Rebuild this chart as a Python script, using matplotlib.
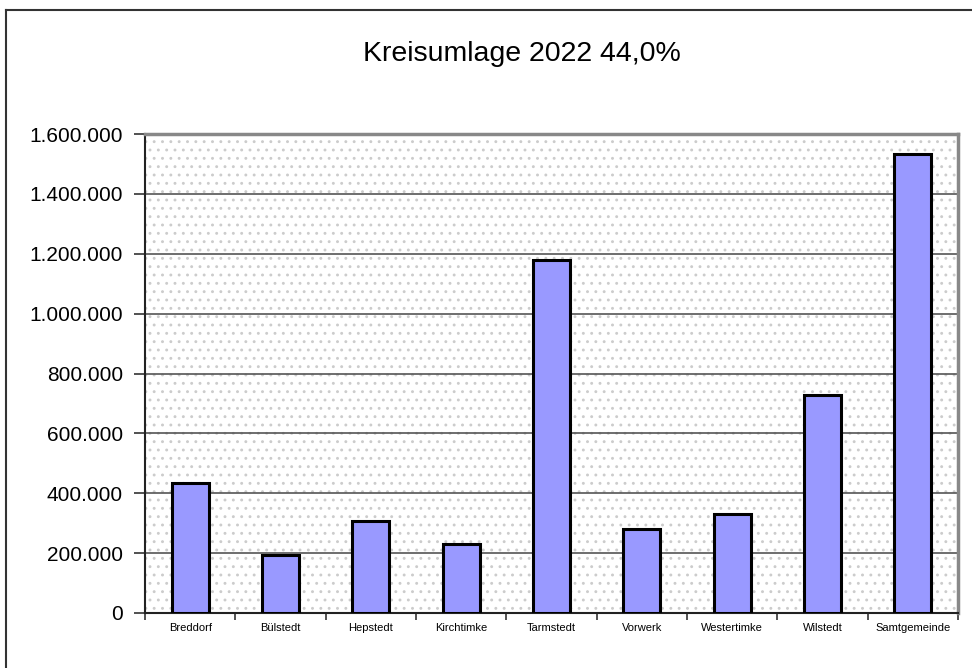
import numpy as np
import matplotlib.pyplot as plt
from matplotlib.patches import Rectangle
from matplotlib.lines import Line2D
from matplotlib.ticker import FuncFormatter, FixedLocator

plt.rcParams['font.family'] = ['Liberation Sans', 'DejaVu Sans']
plt.rcParams['hatch.linewidth'] = 0.9

gemeinden = ['Breddorf', 'Bülstedt', 'Hepstedt', 'Kirchtimke', 'Tarmstedt',
             'Vorwerk', 'Westertimke', 'Wilstedt', 'Samtgemeinde']
umlage = [434000, 195000, 307000, 230000, 1179000, 280000, 330000, 728000, 1533000]

fig = plt.figure(figsize=(9.72, 6.68), dpi=100)
ax = fig.add_axes([145/972, 55/668, 813/972, 479/668])

# dotted background like the spreadsheet chart
ax.patch.set_facecolor('white')
ax.add_patch(Rectangle((0, 0), 1, 1, transform=ax.transAxes, facecolor='white',
                       edgecolor='#cccccc', linewidth=0, hatch='..', zorder=0))

x = np.arange(len(gemeinden))
ax.bar(x, umlage, width=0.41, color='#9999ff', edgecolor='black', linewidth=2.2, zorder=3)

ax.set_xlim(-0.5, len(gemeinden) - 0.5)
ax.set_ylim(0, 1600000)
ax.set_yticks(np.arange(0, 1600001, 200000))
ax.yaxis.set_major_formatter(FuncFormatter(lambda v, p: f'{int(v):,}'.replace(',', '.')))
ax.grid(axis='y', color='#555555', linewidth=1.2, zorder=1)

ax.set_xticks(x)
ax.set_xticklabels(gemeinden, fontsize=8)
ax.xaxis.set_minor_locator(FixedLocator(np.arange(-0.5, len(gemeinden), 1.0)))
ax.tick_params(axis='x', which='major', length=0, pad=7)
ax.tick_params(axis='x', which='minor', length=5, width=1.2, color='#333333')
ax.tick_params(axis='y', labelsize=15, length=8, width=1.2, pad=8, color='#333333')

for s in ['left', 'bottom']:
    ax.spines[s].set_color('#222222')
    ax.spines[s].set_linewidth(1.5)
for s in ['top', 'right']:
    ax.spines[s].set_color('#888888')
    ax.spines[s].set_linewidth(2.5)

fig.text(522/972, 1 - 54/668, 'Kreisumlage 2022 44,0%', fontsize=20.5, ha='center', va='center')

# chart frame: only left and top edges show in the picture
fig.add_artist(Line2D([6/972, 6/972], [0, 1 - 10/668], transform=fig.transFigure,
                      color='#333333', linewidth=1.5))
fig.add_artist(Line2D([6/972, 1], [1 - 10/668, 1 - 10/668], transform=fig.transFigure,
                      color='#333333', linewidth=1.5))

fig.savefig('out.png', dpi=100)
